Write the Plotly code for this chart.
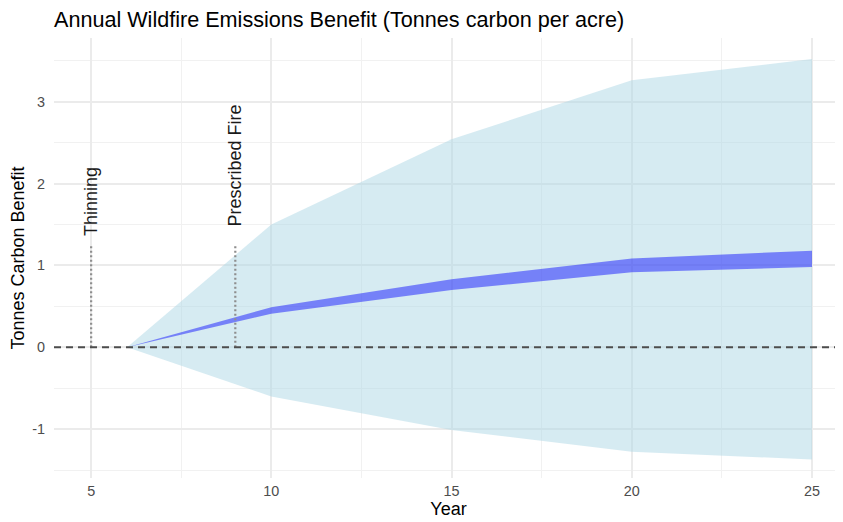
import plotly.graph_objects as go

# ---- data ----
years = [6, 10, 15, 20, 25]
outer_upper = [0, 1.50, 2.54, 3.26, 3.52]
outer_lower = [0, -0.60, -1.01, -1.275, -1.37]
inner_upper = [0, 0.49, 0.83, 1.085, 1.18]
inner_lower = [0, 0.41, 0.70, 0.915, 0.98]

event_years = [5, 9]
event_labels = ["Thinning", "Prescribed Fire"]
event_line_top = [1.25, 1.25]
event_label_base = [1.33, 1.455]

x_ticks = [5, 10, 15, 20, 25]
y_ticks = [-1, 0, 1, 2, 3]

FONT = "Liberation Sans, Arial, Helvetica, sans-serif"

# the page body adds an 8px offset, so the figure is drawn 8px smaller
PAGE_OFFSET = 8
W, H = 843 - PAGE_OFFSET, 522 - PAGE_OFFSET

fig = go.Figure()

# outer uncertainty band
fig.add_trace(go.Scatter(
    x=years + years[::-1],
    y=outer_upper + outer_lower[::-1],
    fill="toself", fillcolor="rgba(173,216,230,0.5)",
    line=dict(width=0), mode="lines", hoverinfo="skip", showlegend=False,
))
# inner band
fig.add_trace(go.Scatter(
    x=years + years[::-1],
    y=inner_upper + inner_lower[::-1],
    fill="toself", fillcolor="rgba(0,0,255,0.45)",
    line=dict(width=0), mode="lines", hoverinfo="skip", showlegend=False,
))

# event dotted lines
for ex, top in zip(event_years, event_line_top):
    fig.add_trace(go.Scatter(
        x=[ex, ex], y=[0, top], mode="lines",
        line=dict(color="#8E8E8E", width=2.2, dash="2px,2.5px"),
        hoverinfo="skip", showlegend=False,
    ))

# event labels
for ex, base, lab in zip(event_years, event_label_base, event_labels):
    fig.add_annotation(
        x=ex, y=base, xref="x", yref="y", text=lab, textangle=-90,
        showarrow=False, xanchor="center", yanchor="bottom",
        font=dict(family=FONT, size=18, color="#1A1A1A"),
    )

# zero dashed line
fig.add_shape(
    type="line", xref="x domain", yref="y", x0=0, x1=1, y0=0, y1=0,
    line=dict(color="#4D4D4D", width=2, dash="7px,5px"), layer="above",
)

fig.update_layout(
    width=W, height=H,
    margin=dict(l=54 - PAGE_OFFSET, r=0, t=38 - PAGE_OFFSET, b=44),
    paper_bgcolor="white", plot_bgcolor="white",
    font=dict(family=FONT, size=14.4, color="#4D4D4D"),
    title=dict(
        text="Annual Wildfire Emissions Benefit (Tonnes carbon per acre)",
        x=(54 - PAGE_OFFSET) / W, xref="container", xanchor="left",
        y=1 - (19 - PAGE_OFFSET) / H, yref="container", yanchor="middle",
        font=dict(family=FONT, size=21.6, color="#000000"),
    ),
    showlegend=False,
)

fig.update_xaxes(
    range=[3.97, 25.86], tickvals=x_ticks, ticktext=[str(v) for v in x_ticks],
    showgrid=True, gridcolor="#EBEBEB", gridwidth=1.6,
    minor=dict(dtick=2.5, tick0=0, showgrid=True, gridcolor="#F1F1F1", gridwidth=1),
    zeroline=False, showline=False, ticks="", ticklabelstandoff=3,
    tickfont=dict(family=FONT, size=14.4, color="#4D4D4D"),
    title=dict(text="Year", standoff=2, font=dict(family=FONT, size=18, color="#000000")),
    automargin=False,
)
fig.update_yaxes(
    range=[-1.596, 3.777], tickvals=y_ticks, ticktext=[str(v) for v in y_ticks],
    showgrid=True, gridcolor="#EBEBEB", gridwidth=1.6,
    minor=dict(dtick=0.5, tick0=0, showgrid=True, gridcolor="#F1F1F1", gridwidth=1),
    zeroline=False, showline=False, ticks="", ticklabelstandoff=8,
    tickfont=dict(family=FONT, size=14.4, color="#4D4D4D"),
    title=dict(text="Tonnes Carbon Benefit", standoff=2, font=dict(family=FONT, size=18, color="#000000")),
    automargin=False,
)

fig.write_html("out.html")
